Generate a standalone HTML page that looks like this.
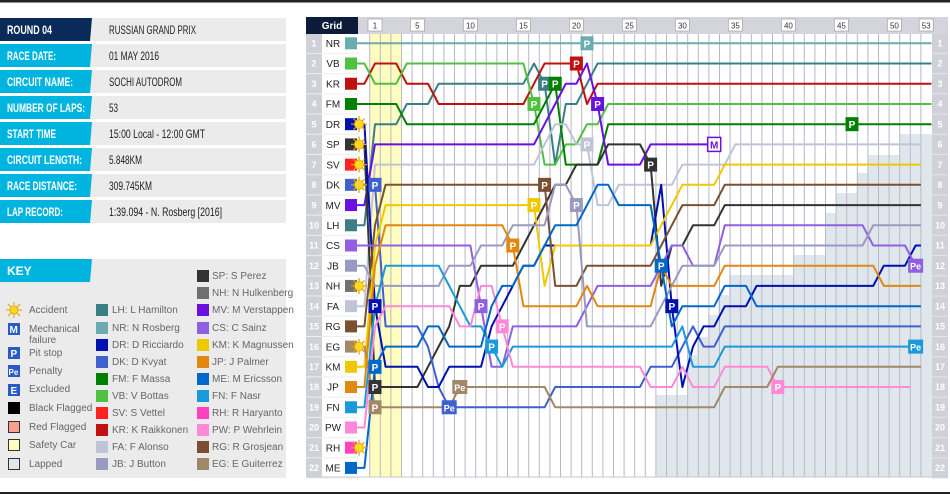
<!DOCTYPE html>
<html><head><meta charset="utf-8"><style>
body{margin:0;background:#fff;width:950px;height:495px;overflow:hidden;font-family:"Liberation Sans",sans-serif}
svg{position:absolute;left:0;top:0}
.lab{font:bold 12px "Liberation Sans",sans-serif;fill:#fff}
.val{font:12px "Liberation Sans",sans-serif;fill:#222}
.k{font:10px "Liberation Sans",sans-serif;fill:#666}
.gn{font:bold 9px "Liberation Sans",sans-serif;fill:#fff}
.nm{font:10px "Liberation Sans",sans-serif;fill:#222}
.lp{font:8px "Liberation Sans",sans-serif;fill:#333}
.mk{font:bold 10px "Liberation Sans",sans-serif;fill:#fff}
</style></head><body>
<svg width="950" height="495" viewBox="0 0 950 495" xmlns="http://www.w3.org/2000/svg">
<rect x="0" y="0" width="950" height="2.5" fill="#222"/>
<rect x="0" y="492" width="950" height="2" fill="#222"/>
<g>
<rect x="0" y="18" width="286" height="23" fill="#ebebeb"/><polygon points="0,18 92,18 90,41 0,41" fill="#0a2a5a"/>
<rect x="0" y="44" width="286" height="23" fill="#ebebeb"/><polygon points="0,44 92,44 90,67 0,67" fill="#00b4e0"/>
<rect x="0" y="70" width="286" height="23" fill="#ebebeb"/><polygon points="0,70 92,70 90,93 0,93" fill="#00b4e0"/>
<rect x="0" y="96" width="286" height="23" fill="#ebebeb"/><polygon points="0,96 92,96 90,119 0,119" fill="#00b4e0"/>
<rect x="0" y="122" width="286" height="23" fill="#ebebeb"/><polygon points="0,122 92,122 90,145 0,145" fill="#00b4e0"/>
<rect x="0" y="148" width="286" height="23" fill="#ebebeb"/><polygon points="0,148 92,148 90,171 0,171" fill="#00b4e0"/>
<rect x="0" y="174" width="286" height="23" fill="#ebebeb"/><polygon points="0,174 92,174 90,197 0,197" fill="#00b4e0"/>
<rect x="0" y="200" width="286" height="23" fill="#ebebeb"/><polygon points="0,200 92,200 90,223 0,223" fill="#00b4e0"/>
<text class="lab" x="7" y="34" textLength="45" lengthAdjust="spacingAndGlyphs">ROUND 04</text><text class="val" x="109" y="34" textLength="87" lengthAdjust="spacingAndGlyphs">RUSSIAN GRAND PRIX</text>
<text class="lab" x="7" y="60" textLength="49" lengthAdjust="spacingAndGlyphs">RACE DATE:</text><text class="val" x="109" y="60" textLength="50" lengthAdjust="spacingAndGlyphs">01 MAY 2016</text>
<text class="lab" x="7" y="86" textLength="66" lengthAdjust="spacingAndGlyphs">CIRCUIT NAME:</text><text class="val" x="109" y="86" textLength="73" lengthAdjust="spacingAndGlyphs">SOCHI AUTODROM</text>
<text class="lab" x="7" y="112" textLength="78" lengthAdjust="spacingAndGlyphs">NUMBER OF LAPS:</text><text class="val" x="109" y="112" textLength="9" lengthAdjust="spacingAndGlyphs">53</text>
<text class="lab" x="7" y="138" textLength="49" lengthAdjust="spacingAndGlyphs">START TIME</text><text class="val" x="109" y="138" textLength="96" lengthAdjust="spacingAndGlyphs">15:00 Local - 12:00 GMT</text>
<text class="lab" x="7" y="164" textLength="75" lengthAdjust="spacingAndGlyphs">CIRCUIT LENGTH:</text><text class="val" x="109" y="164" textLength="33" lengthAdjust="spacingAndGlyphs">5.848KM</text>
<text class="lab" x="7" y="190" textLength="70" lengthAdjust="spacingAndGlyphs">RACE DISTANCE:</text><text class="val" x="109" y="190" textLength="43" lengthAdjust="spacingAndGlyphs">309.745KM</text>
<text class="lab" x="7" y="216" textLength="56" lengthAdjust="spacingAndGlyphs">LAP RECORD:</text><text class="val" x="109" y="216" textLength="113" lengthAdjust="spacingAndGlyphs">1:39.094 - N. Rosberg [2016]</text>
</g>
<g>
<rect x="0" y="259" width="286" height="219" fill="#ebebeb"/>
<polygon points="0,259 92,259 90,282 0,282" fill="#00b4e0"/>
<text class="lab" x="7" y="275">KEY</text>
<g transform="translate(14,310)"><path d="M0,-8V8M-8,0H8M-6,-6L6,6M-6,6L6,-6" stroke="#e0a000" stroke-width="1"/><circle r="4" fill="#ffd820" stroke="#e0a000" stroke-width=".8"/></g>
<text class="k" x="29" y="313">Accident</text>
<rect x="8" y="323" width="12" height="12" fill="#2a5ac8"/><text class="mk" x="9.5" y="333">M</text>
<text class="k" x="29" y="332">Mechanical</text><text class="k" x="29" y="343">failure</text>
<rect x="8" y="347" width="12" height="12" fill="#2a5ac8"/><text class="mk" x="10.5" y="357">P</text><text class="k" x="29" y="356">Pit stop</text>
<rect x="8" y="365" width="12" height="12" fill="#2a5ac8"/><text class="mk" x="8.5" y="375" style="font-size:8px">Pe</text><text class="k" x="29" y="374">Penalty</text>
<rect x="8" y="384" width="12" height="12" fill="#2a5ac8"/><text class="mk" x="10.5" y="394">E</text><text class="k" x="29" y="392">Excluded</text>
<rect x="8" y="402" width="12" height="12" fill="#000"/><text class="k" x="29" y="411">Black Flagged</text>
<rect x="8.5" y="421.5" width="11" height="11" fill="#f8a090" stroke="#333"/><text class="k" x="29" y="430">Red Flagged</text>
<rect x="8.5" y="439.5" width="11" height="11" fill="#ffffc0" stroke="#333"/><text class="k" x="29" y="448">Safety Car</text>
<rect x="8.5" y="458.5" width="11" height="11" fill="#dfe7ec" stroke="#333"/><text class="k" x="29" y="467">Lapped</text>
</g>
<rect x="306" y="17" width="642" height="17" fill="#d4d4dc"/>
<rect x="306" y="17" width="52" height="17" fill="#0d1b3a"/>
<text x="332" y="29" text-anchor="middle" style="font:bold 10px 'Liberation Sans',sans-serif;fill:#fff">Grid</text>
<rect x="306" y="34" width="16" height="443" fill="#d0d0d8"/>
<rect x="322" y="34" width="36" height="443" fill="#fff"/>
<rect x="932" y="34" width="16" height="443" fill="#d0d0d8"/>
<rect x="369.7" y="34" width="31.8" height="443" fill="#fffcc0"/>
<polygon fill="#dfe7ec" points="656,477 656,395 687,395 687,355 697,355 697,337 708,337 708,315 718,315 718,295 729,295 729,275 793,275 793,255 825,255 825,213 836,213 836,193 857,193 857,173 868,173 868,155 900,155 900,134 932,134 932,477"/>
<g id="grid"></g>
<line x1="306" y1="477" x2="948" y2="477" stroke="#c8c8d0"/>
<g class="lp" text-anchor="middle">
<rect x="368" y="19" width="14" height="12" fill="#fff" stroke="#999" stroke-width=".6"/><text x="375" y="28.5">1</text>
<rect x="410.4" y="19" width="14" height="12" fill="#fff" stroke="#999" stroke-width=".6"/><text x="417.4" y="28.5">5</text>
<rect x="463.4" y="19" width="14" height="12" fill="#fff" stroke="#999" stroke-width=".6"/><text x="470.4" y="28.5">10</text>
<rect x="516.4" y="19" width="14" height="12" fill="#fff" stroke="#999" stroke-width=".6"/><text x="523.4" y="28.5">15</text>
<rect x="569.4" y="19" width="14" height="12" fill="#fff" stroke="#999" stroke-width=".6"/><text x="576.4" y="28.5">20</text>
<rect x="622.4" y="19" width="14" height="12" fill="#fff" stroke="#999" stroke-width=".6"/><text x="629.4" y="28.5">25</text>
<rect x="675.4" y="19" width="14" height="12" fill="#fff" stroke="#999" stroke-width=".6"/><text x="682.4" y="28.5">30</text>
<rect x="728.4" y="19" width="14" height="12" fill="#fff" stroke="#999" stroke-width=".6"/><text x="735.4" y="28.5">35</text>
<rect x="781.4" y="19" width="14" height="12" fill="#fff" stroke="#999" stroke-width=".6"/><text x="788.4" y="28.5">40</text>
<rect x="834.4" y="19" width="14" height="12" fill="#fff" stroke="#999" stroke-width=".6"/><text x="841.4" y="28.5">45</text>
<rect x="887.4" y="19" width="14" height="12" fill="#fff" stroke="#999" stroke-width=".6"/><text x="894.4" y="28.5">50</text>
<rect x="919.2" y="19" width="14" height="12" fill="#fff" stroke="#999" stroke-width=".6"/><text x="926.2" y="28.5">53</text>
</g>
<g class="gn" text-anchor="middle">
<text x="314" y="46.5">1</text><text x="314" y="66.7">2</text><text x="314" y="86.9">3</text><text x="314" y="107.2">4</text><text x="314" y="127.4">5</text><text x="314" y="147.6">6</text><text x="314" y="167.8">7</text><text x="314" y="188">8</text><text x="314" y="208.3">9</text><text x="314" y="228.5">10</text><text x="314" y="248.7">11</text><text x="314" y="268.9">12</text><text x="314" y="289.1">13</text><text x="314" y="309.4">14</text><text x="314" y="329.6">15</text><text x="314" y="349.8">16</text><text x="314" y="370">17</text><text x="314" y="390.2">18</text><text x="314" y="410.5">19</text><text x="314" y="430.7">20</text><text x="314" y="450.9">21</text><text x="314" y="471.1">22</text>
<text x="940" y="46.5">1</text><text x="940" y="66.7">2</text><text x="940" y="86.9">3</text><text x="940" y="107.2">4</text><text x="940" y="127.4">5</text><text x="940" y="147.6">6</text><text x="940" y="167.8">7</text><text x="940" y="188">8</text><text x="940" y="208.3">9</text><text x="940" y="228.5">10</text><text x="940" y="248.7">11</text><text x="940" y="268.9">12</text><text x="940" y="289.1">13</text><text x="940" y="309.4">14</text><text x="940" y="329.6">15</text><text x="940" y="349.8">16</text><text x="940" y="370">17</text><text x="940" y="390.2">18</text><text x="940" y="410.5">19</text><text x="940" y="430.7">20</text><text x="940" y="450.9">21</text><text x="940" y="471.1">22</text>
</g>
<g class="nm" text-anchor="middle">
<text x="333" y="47">NR</text><text x="333" y="67.2">VB</text><text x="333" y="87.4">KR</text><text x="333" y="107.7">FM</text><text x="333" y="127.9">DR</text><text x="333" y="148.1">SP</text><text x="333" y="168.3">SV</text><text x="333" y="188.5">DK</text><text x="333" y="208.8">MV</text><text x="333" y="229">LH</text><text x="333" y="249.2">CS</text><text x="333" y="269.4">JB</text><text x="333" y="289.6">NH</text><text x="333" y="309.9">FA</text><text x="333" y="330.1">RG</text><text x="333" y="350.3">EG</text><text x="333" y="370.5">KM</text><text x="333" y="390.7">JP</text><text x="333" y="411">FN</text><text x="333" y="431.2">PW</text><text x="333" y="451.4">RH</text><text x="333" y="471.6">ME</text>
</g>
<g id="series"></g>
<g id="marks"></g>
<g class="k">
<text x="112" y="313">LH: L Hamilton</text><text x="112" y="331">NR: N Rosberg</text><text x="112" y="348">DR: D Ricciardo</text><text x="112" y="365">DK: D Kvyat</text><text x="112" y="382">FM: F Massa</text><text x="112" y="399">VB: V Bottas</text><text x="112" y="416">SV: S Vettel</text><text x="112" y="433">KR: K Raikkonen</text><text x="112" y="450">FA: F Alonso</text><text x="112" y="467">JB: J Button</text>
<text x="212" y="279">SP: S Perez</text><text x="212" y="296">NH: N Hulkenberg</text><text x="212" y="313">MV: M Verstappen</text><text x="212" y="331">CS: C Sainz</text><text x="212" y="348">KM: K Magnussen</text><text x="212" y="365">JP: J Palmer</text><text x="212" y="382">ME: M Ericsson</text><text x="212" y="399">FN: F Nasr</text><text x="212" y="416">RH: R Haryanto</text><text x="212" y="433">PW: P Wehrlein</text><text x="212" y="450">RG: R Grosjean</text><text x="212" y="467">EG: E Guiterrez</text>
</g>
<g id="keysq"></g>
</svg>
<script>
var NS="http://www.w3.org/2000/svg";
function el(p,t,a){var e=document.createElementNS(NS,t);for(var k in a)e.setAttribute(k,a[k]);p.appendChild(e);return e;}
function L(l){return 364.4+10.6*l;}function R(r){return 43.3+20.22*(r-1);}
var g=document.getElementById('grid');
for(var k=0;k<53;k++){var x=L(k+0.5);el(g,'line',{x1:x,y1:34,x2:x,y2:477,stroke:'#b8b8c8','stroke-width':1});}
for(var r=1;r<=22;r++){var y=R(r)+10.1;el(g,'line',{x1:306,y1:y,x2:358,y2:y,stroke:'#eee','stroke-width':1});el(g,'line',{x1:932,y1:y,x2:948,y2:y,stroke:'#e4e4ea','stroke-width':1});}
var D=[
['NR','#6aacb0',1,'',53.5],
['LH','#3a7f86',10,'1:5,4:4,7:3,16:2,17:3,18:7,19:4,21:3,22:2',53.5],
['KR','#c01010',3,'1:2,4:3,7:4,16:3,17:2,20:2,21:4,22:3',53.5],
['VB','#50c040',2,'1:3,4:2,15:2,16:4,17:7,19:6,21:5,23:4',53.5],
['FM','#008000',4,'4:5,16:5,17:4,18:3,19:7,21:7,23:5',53.5],
['MV','#6a10e0',9,'1:6,16:6,17:5,18:4,19:3,21:2,22:4,23:7,26:7,27:6',33],
['FA','#c0c4d8',14,'1:7,16:7,17:6,18:5,19:5,20:6,21:6,22:9,23:9,24:8,29:8,30:7,34:7,35:6',52.5],
['SP','#333333',6,'1:18,5:18,6:17,7:16,8:15,9:13,11:12,14:12,15:11,16:10,17:9,18:8,20:7,23:6,26:6,27:7,28:13,29:11,31:10,34:9',52.5],
['DK','#4060d0',8,'1:8,2:15,5:15,6:16,7:18,8:19,17:19,18:18,26:18,27:17,29:17,30:16,31:15,32:16,33:16,34:15',52.5],
['DR','#0010b0',5,'1:14,2:17,5:17,6:18,7:18,8:17,11:17,12:15,13:14,14:13,15:12,17:11,27:11,28:8,29:14,30:18,31:16,32:15,34:14,37:13,48:13,49:12,51:12,52:11',52.5],
['KM','#f0c800',17,'1:11,2:9,16:9,17:13,18:11,27:11,28:10,29:9,30:8,33:8,34:7',52.5],
['RG','#7a5030',15,'1:10,2:8,17:8,18:13,20:13,21:12,27:12,28:11,29:10,30:9,33:9,34:8',52.5],
['CS','#9060e0',11,'1:11,10:11,11:14,12:17,14:15,20:15,21:14,22:13,27:13,28:12,29:11,30:11,31:12,33:12,34:10,47:10,48:11,51:11,52:12',52.5],
['JB','#9a9ac0',12,'1:13,7:13,8:12,10:12,11:11,13:11,14:10,16:10,18:8,19:8,20:9,21:15,27:15,28:14,29:13,30:12,33:12,34:11,47:11,48:10',52.5],
['FN','#1a9ad8',19,'1:14,2:12,7:12,8:13,9:14,10:15,11:15,12:16,13:17,14:16,29:16,30:15,31:17,33:17,34:16',52.5],
['PW','#ff88d8',20,'1:15,2:14,8:14,9:15,11:13,12:13,13:15,14:17,26:17,27:18,29:18,30:17,31:18,33:18,34:17,38:17,39:18',51.5],
['EG','#a08868',16,'1:19,8:19,9:18,17:18,18:19,33:19,34:18,38:18,39:17',52.5],
['JP','#e08810',18,'1:12,2:10,13:10,14:11,15:14,20:14,21:13,22:14,27:14,28:12,29:13,33:13,34:12,48:12,49:13',52.5],
['ME','#0068c8',22,'1:17,2:16,5:16,6:15,7:15,8:16,11:16,12:14,13:13,15:12,17:11,18:10,21:9,22:8,23:8,24:9,27:9,28:12,29:15,30:14,33:14,34:13,36:13,37:14',52.5]
];
var C={};var S=document.getElementById('series');
D.forEach(function(d){C[d[0]]=d[1];var pts=[[357,R(d[2])]],last=-0.7,p=d[2];
 if(d[3])d[3].split(',').forEach(function(s){var a=s.split(':'),l=+a[0],q=+a[1];if(l-1>last)pts.push([L(l-1),R(p)]);pts.push([L(l),R(q)]);last=l;p=q;});
 pts.push([L(d[4]),R(p)]);
 el(S,'polyline',{points:pts.map(function(a){return a[0].toFixed(1)+','+a[1].toFixed(1)}).join(' '),fill:'none',stroke:d[1],'stroke-width':2,'stroke-linejoin':'round'});});
var G=['NR','VB','KR','FM','DR','SP','SV','DK','MV','LH','CS','JB','NH','FA','RG','EG','KM','JP','FN','PW','RH','ME'];
var C2={SV:'#ff2020',NH:'#707070',RH:'#ff40c0'};
G.forEach(function(n,i){el(S,'rect',{x:345,y:R(i+1)-6,width:12,height:12,fill:C[n]||C2[n]});});
var M=document.getElementById('marks');
function sun(x,y){var gg=el(M,'g',{transform:'translate('+x+','+y+')'});el(gg,'path',{d:'M0,-8V8M-8,0H8M-5.5,-5.5L5.5,5.5M-5.5,5.5L5.5,-5.5',stroke:'#e0a000','stroke-width':1.2});el(gg,'circle',{r:4.5,fill:'#ffd820',stroke:'#e8a800','stroke-width':.8});}
[5,6,7,8,13,16,21].forEach(function(r){sun(359,R(r));});
function mk(n,l,r,t){var x=L(l),y=R(r);var w=t=='Pe'?15:13;el(M,'rect',{x:x-w/2,y:y-7,width:w,height:14,fill:C[n]});var tx=el(M,'text',{x:x,y:y+4,'text-anchor':'middle',class:'mk',style:t=='Pe'?'font-size:9px':''});tx.textContent=t;}
[['NR',21,1],['KR',20,2],['VB',16,4],['LH',17,3],['FM',18,3],['FM',46,5],['MV',22,4],['FA',21,6],['SP',1,18],['SP',27,7],['DK',1,8],['DR',1,14],['DR',29,14],['KM',16,9],['RG',17,8],['CS',11,14],['JB',20,9],['FN',12,16],['PW',13,15],['PW',39,18],['EG',1,19],['JP',14,11],['ME',1,17],['ME',28,12]].forEach(function(a){mk(a[0],a[1],a[2],'P');});
[['DK',8,19],['EG',9,18],['CS',52,12],['FN',52,16]].forEach(function(a){mk(a[0],a[1],a[2],'Pe');});
(function(){var x=L(33),y=R(6);el(M,'rect',{x:x-6.5,y:y-7,width:13,height:14,fill:'#fff',stroke:C.MV,'stroke-width':1.5});var t=el(M,'text',{x:x,y:y+4,'text-anchor':'middle',class:'mk',style:'fill:'+C.MV});t.textContent='M';})();
var K=document.getElementById('keysq');
[['LH',310],['NR',328],['DR',345],['DK',362],['FM',379],['VB',396],['SV',413],['KR',430],['FA',447],['JB',464]].forEach(function(a){el(K,'rect',{x:96,y:a[1]-6,width:12,height:12,fill:C[a[0]]||C2[a[0]]});});
[['SP',276],['NH',293],['MV',310],['CS',328],['KM',345],['JP',362],['ME',379],['FN',396],['RH',413],['PW',430],['RG',447],['EG',464]].forEach(function(a){el(K,'rect',{x:197,y:a[1]-6,width:12,height:12,fill:C[a[0]]||C2[a[0]]});});
</script>
</body></html>
